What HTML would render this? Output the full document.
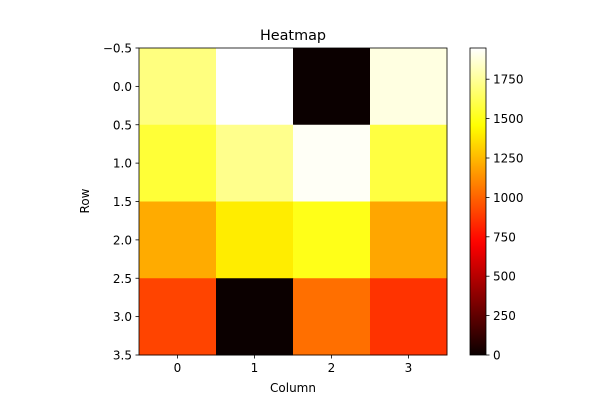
<!DOCTYPE html>
<html><head><meta charset="utf-8"><style>
body{margin:0;background:#fff;font-family:"Liberation Sans","DejaVu Sans",sans-serif}
svg text{font-family:"DejaVu Sans","Liberation Sans",sans-serif;font-size:12px;fill:#000}
</style></head><body>
<svg id="chart" width="600" height="400" xmlns="http://www.w3.org/2000/svg">
<rect width="600" height="400" fill="#fff"/>
<text x="293" y="40" text-anchor="middle" style="font-size:14.4px">Heatmap</text>
<g id="cells"></g><g id="axes"></g><g id="cbar"></g>
<text x="293" y="392" text-anchor="middle">Column</text>
<text transform="translate(89,201) rotate(-90)" text-anchor="middle">Row</text>
</svg>
<script>
const rows=[0,1,2,3];
const cols=[0,1,2,3];
const values=[
 [1700,1948,0,1890],
 [1560,1725,1930,1580],
 [1210,1400,1500,1195],
 [910,0,1035,860]
];
const yTicks=[-0.5,0.0,0.5,1.0,1.5,2.0,2.5,3.0,3.5];
const yTickLabels=["\u22120.5","0.0","0.5","1.0","1.5","2.0","2.5","3.0","3.5"];
const cbTicks=[0,250,500,750,1000,1250,1500,1750];
const vmin=0, vmax=1948;
const NS="http://www.w3.org/2000/svg";
const L=139,R=447,T=48,B=355;
const xs=c=>L+(c+0.5)/cols.length*(R-L);
const ys=r=>T+(r+0.5)/rows.length*(B-T);
function hot(v){let x=(v-vmin)/(vmax-vmin);x=Math.max(0,Math.min(1,x));
 const r=Math.min(1,0.0416+x*(1-0.0416)/0.365079),g=Math.max(0,Math.min(1,(x-0.365079)/0.380953)),b=Math.max(0,Math.min(1,(x-0.746032)/0.253968));
 return `rgb(${Math.round(r*255)},${Math.round(g*255)},${Math.round(b*255)})`;}
function el(t,a,p){const e=document.createElementNS(NS,t);for(const k in a)e.setAttribute(k,a[k]);p.appendChild(e);return e;}
const cg=document.getElementById('cells'),ag=document.getElementById('axes'),bg=document.getElementById('cbar');
const cw=(R-L)/cols.length,ch=(B-T)/rows.length;
rows.forEach((r,i)=>cols.forEach((c,j)=>{
 const e=el('rect',{x:xs(j-0.5),y:ys(i-0.5),width:cw+0.5,height:ch+0.5,fill:hot(values[i][j])},cg);
 
 
}));
const fr=el('rect',{x:L,y:T,width:R-L,height:B-T,fill:'none',stroke:'#000','stroke-width':0.8},ag);


cols.forEach((c,j)=>{el('line',{x1:xs(j),x2:xs(j),y1:B,y2:B+3.5,stroke:'#000','stroke-width':0.8},ag);
 const t=el('text',{x:xs(j),y:B+17,'text-anchor':'middle'},ag);t.textContent=c;
 
 });
yTicks.forEach((v,i)=>{const y=T+(v+0.5)/rows.length*(B-T);
 el('line',{x1:L-3.5,x2:L,y1:y,y2:y,stroke:'#000','stroke-width':0.8},ag);
 const t=el('text',{x:L-7,y:y+4.5,'text-anchor':'end'},ag);t.textContent=yTickLabels[i];
 
 });
const CL=470,CR=486;
const defs=el('defs',{},bg);const gr=el('linearGradient',{id:'g',x1:0,y1:1,x2:0,y2:0},defs);
for(let k=0;k<=40;k++){el('stop',{offset:k/40,'stop-color':hot(vmin+k/40*(vmax-vmin))},gr);}
const cb=el('rect',{x:CL,y:T,width:CR-CL,height:B-T,fill:'url(#g)',stroke:'#000','stroke-width':0.8},bg);


cbTicks.forEach(v=>{const y=B-(v-vmin)/(vmax-vmin)*(B-T);
 el('line',{x1:CR,x2:CR+3.5,y1:y,y2:y,stroke:'#000','stroke-width':0.8},bg);
 const t=el('text',{x:CR+7,y:y+4.5},bg);t.textContent=v;
 
 });
</script>
</body></html>
